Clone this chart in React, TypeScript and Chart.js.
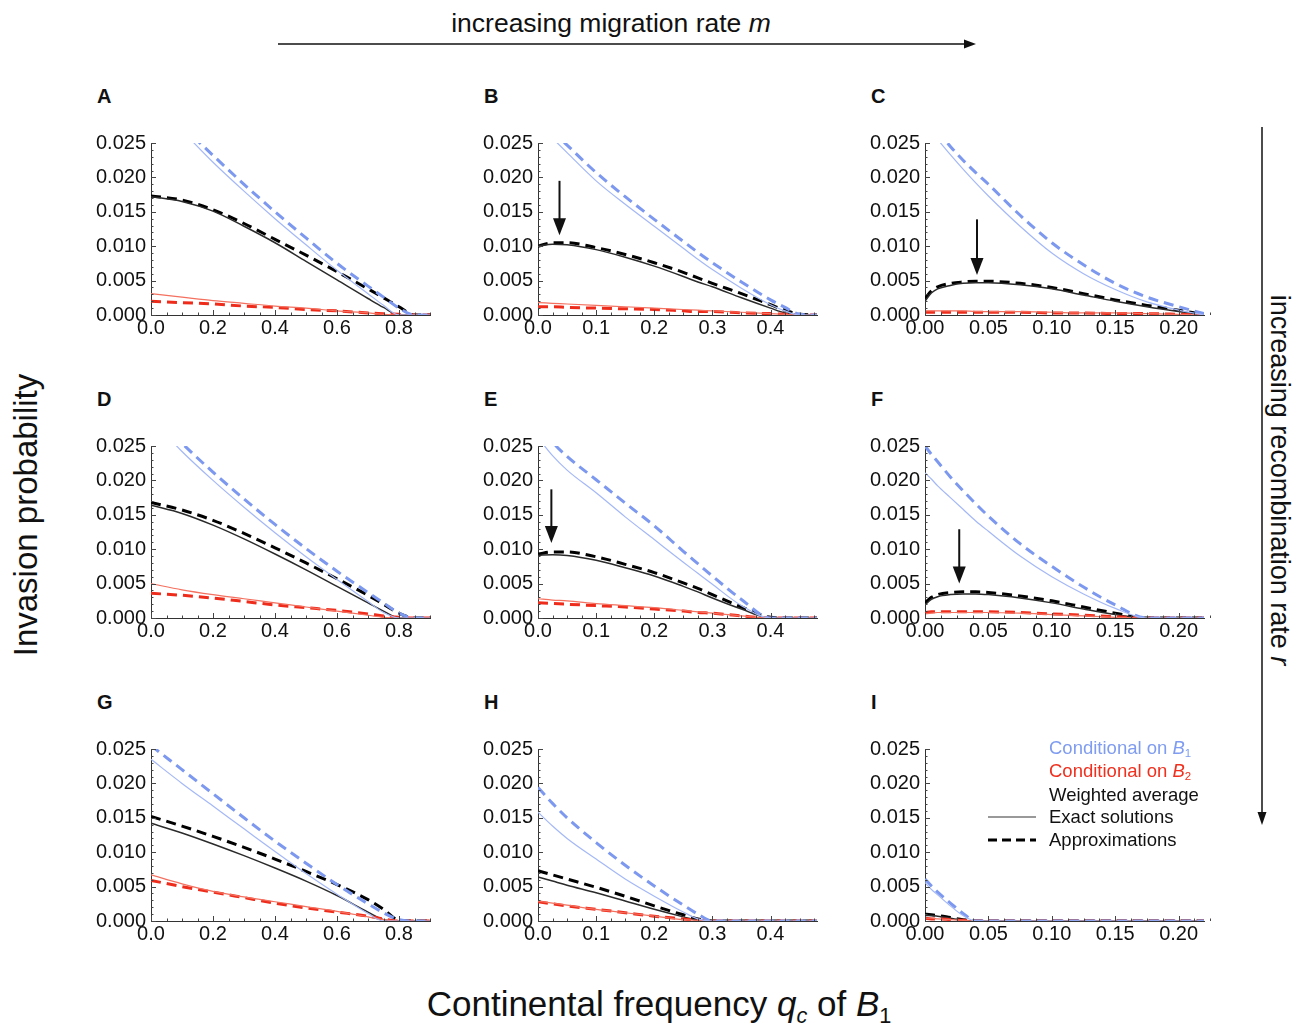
import React, { useEffect, useRef } from "react";
import { Chart, registerables } from "chart.js";

Chart.register(...registerables);

const FONT = '"Liberation Sans", Arial, Helvetica, sans-serif';

// ---------- tick labels ----------
const yTickValues = [0, 0.005, 0.01, 0.015, 0.02, 0.025];
const xTicksWide = [0, 0.2, 0.4, 0.6, 0.8];
const xTicksMid = [0, 0.1, 0.2, 0.3, 0.4];
const xTicksNarrow = [0, 0.05, 0.1, 0.15, 0.2];

// ---------- x grids (continental frequency q_c) ----------
const qWide = [0, 0.1, 0.2, 0.3, 0.4, 0.5, 0.6, 0.7, 0.75, 0.8, 0.85, 0.9];
const qMid = [0, 0.025, 0.05, 0.1, 0.15, 0.2, 0.25, 0.275, 0.3, 0.35, 0.4, 0.425, 0.45, 0.48];
const qNarrow = [0, 0.005, 0.01, 0.02, 0.03, 0.04, 0.05, 0.075, 0.1, 0.125, 0.15, 0.175, 0.2, 0.22];

// ---------- Panel A ----------
const aB1Exact = [null, 0.0268, 0.0222, 0.018, 0.014, 0.0102, 0.0065, 0.0031, 0.0014, 0, 0, 0];
const aB1Approx = [null, 0.0275, 0.0232, 0.019, 0.015, 0.0112, 0.0075, 0.0042, 0.0026, 0.001, 0, 0];
const aB2Exact = [0.0031, 0.0026, 0.0021, 0.0017, 0.0013, 0.001, 0.0006, 0.0003, 0.0001, 0, 0, 0];
const aB2Approx = [0.002, 0.0018, 0.0016, 0.0013, 0.0011, 0.0008, 0.0006, 0.0003, 0.0002, 0.0001, 0, 0];
const aAvgExact = [0.0172, 0.0165, 0.0151, 0.0129, 0.0105, 0.0078, 0.0051, 0.0024, 0.0011, 0, 0, 0];
const aAvgApprox = [0.0173, 0.0167, 0.0153, 0.0133, 0.011, 0.0087, 0.0063, 0.0038, 0.0025, 0.0012, 0, 0];

// ---------- Panel B ----------
const bB1Exact = [null, 0.0257, 0.0236, 0.0195, 0.0161, 0.0129, 0.0097, 0.0081, 0.0066, 0.0039, 0.0015, 0.0006, 0, 0];
const bB1Approx = [null, 0.0267, 0.0247, 0.0207, 0.0172, 0.0139, 0.0107, 0.0091, 0.0076, 0.0048, 0.0022, 0.0011, 0.0001, 0];
const bB2Exact = [0.0018, 0.0017, 0.0016, 0.0014, 0.0012, 0.001, 0.0008, 0.0007, 0.0006, 0.0004, 0.0002, 0.0001, 0, 0];
const bB2Approx = [0.0012, 0.0012, 0.0011, 0.001, 0.0009, 0.0008, 0.0006, 0.0005, 0.0005, 0.0003, 0.0002, 0.0001, 0, 0];
const bAvgExact = [0.01, 0.0103, 0.0102, 0.0095, 0.0084, 0.0071, 0.0056, 0.0048, 0.0041, 0.0025, 0.001, 0.0003, 0, 0];
const bAvgApprox = [0.01, 0.0105, 0.0105, 0.0098, 0.0088, 0.0076, 0.0062, 0.0054, 0.0046, 0.0031, 0.0015, 0.0007, 0.0001, 0];

// ---------- Panel C ----------
const cB1Exact = [null, null, 0.0255, 0.0233, 0.0212, 0.0192, 0.0173, 0.0129, 0.009, 0.006, 0.0037, 0.0019, 0.0007, 0];
const cB1Approx = [null, null, 0.0268, 0.0245, 0.0225, 0.0207, 0.019, 0.0145, 0.0105, 0.0073, 0.0046, 0.0026, 0.0012, 0.0002];
const cB2Exact = [0.0006, 0.0006, 0.0006, 0.0006, 0.0006, 0.0005, 0.0005, 0.0005, 0.0004, 0.0003, 0.0003, 0.0002, 0.0001, 0];
const cB2Approx = [0.0004, 0.0004, 0.0004, 0.0004, 0.0004, 0.0004, 0.0004, 0.0004, 0.0003, 0.0003, 0.0002, 0.0002, 0.0001, 0];
const cAvgExact = [0.002, 0.0032, 0.0038, 0.0043, 0.0046, 0.0047, 0.0047, 0.0044, 0.0038, 0.0029, 0.002, 0.0012, 0.0005, 0];
const cAvgApprox = [0.0024, 0.0035, 0.0041, 0.0046, 0.0048, 0.0049, 0.0049, 0.0046, 0.004, 0.0031, 0.0022, 0.0014, 0.0007, 0.0001];

// ---------- Panel D ----------
const dB1Exact = [0.029, 0.0242, 0.02, 0.0161, 0.0124, 0.0089, 0.0056, 0.0024, 0.0008, 0, 0, 0];
const dB1Approx = [0.03, 0.0254, 0.0212, 0.0173, 0.0136, 0.0101, 0.0068, 0.0037, 0.0022, 0.0007, 0, 0];
const dB2Exact = [0.005, 0.0041, 0.0034, 0.0028, 0.0022, 0.0016, 0.001, 0.0004, 0.0001, 0, 0, 0];
const dB2Approx = [0.0036, 0.0033, 0.0029, 0.0024, 0.0019, 0.0015, 0.0011, 0.0006, 0.0003, 0.0001, 0, 0];
const dAvgExact = [0.0164, 0.0152, 0.0135, 0.0115, 0.0093, 0.007, 0.0046, 0.0022, 0.001, 0, 0, 0];
const dAvgApprox = [0.0168, 0.0157, 0.0142, 0.0123, 0.0102, 0.008, 0.0057, 0.0033, 0.002, 0.0007, 0, 0];

// ---------- Panel E ----------
const eB1Exact = [0.0262, 0.0236, 0.0215, 0.0182, 0.0147, 0.0114, 0.0081, 0.0065, 0.0049, 0.0018, 0, 0, 0, 0];
const eB1Approx = [0.029, 0.0256, 0.0235, 0.0201, 0.0167, 0.0134, 0.0097, 0.0079, 0.0061, 0.0027, 0, 0, 0, 0];
const eB2Exact = [0.0028, 0.0026, 0.0025, 0.0021, 0.0018, 0.0015, 0.0011, 0.0009, 0.0007, 0.0003, 0, 0, 0, 0];
const eB2Approx = [0.0022, 0.0021, 0.002, 0.0018, 0.0016, 0.0013, 0.001, 0.0008, 0.0007, 0.0003, 0, 0, 0, 0];
const eAvgExact = [0.0091, 0.0092, 0.0091, 0.0084, 0.0073, 0.0061, 0.0046, 0.0038, 0.0029, 0.0013, 0, 0, 0, 0];
const eAvgApprox = [0.0093, 0.0096, 0.0096, 0.0089, 0.0078, 0.0066, 0.0051, 0.0043, 0.0034, 0.0016, 0.0001, 0, 0, 0];

// ---------- Panel F ----------
const fB1Exact = [0.0211, 0.0202, 0.0192, 0.0175, 0.0158, 0.0141, 0.0126, 0.009, 0.006, 0.0035, 0.0014, 0, 0, 0];
const fB1Approx = [0.025, 0.0238, 0.0227, 0.0205, 0.0185, 0.0166, 0.0148, 0.0108, 0.0075, 0.0045, 0.0019, 0, 0, 0];
const fB2Exact = [0.0006, 0.0007, 0.0008, 0.0008, 0.0008, 0.0008, 0.0008, 0.0007, 0.0005, 0.0003, 0.0001, 0, 0, 0];
const fB2Approx = [0.0008, 0.0009, 0.0009, 0.0009, 0.0009, 0.0009, 0.0009, 0.0008, 0.0006, 0.0004, 0.0002, 0, 0, 0];
const fAvgExact = [0.0019, 0.0027, 0.0031, 0.0034, 0.0035, 0.0035, 0.0034, 0.0029, 0.0022, 0.0013, 0.0005, 0, 0, 0];
const fAvgApprox = [0.0022, 0.003, 0.0034, 0.0037, 0.0038, 0.0038, 0.0037, 0.0032, 0.0025, 0.0016, 0.0007, 0, 0, 0];

// ---------- Panel G ----------
const gB1Exact = [0.0235, 0.02, 0.0167, 0.0134, 0.0101, 0.0069, 0.0039, 0.0011, 0, 0, 0, 0];
const gB1Approx = [0.0255, 0.022, 0.0185, 0.015, 0.0116, 0.0084, 0.0053, 0.0025, 0.0012, 0.0002, 0, 0];
const gB2Exact = [0.0067, 0.0054, 0.0043, 0.0035, 0.0028, 0.0021, 0.0014, 0.0006, 0.0002, 0, 0, 0];
const gB2Approx = [0.0059, 0.005, 0.0042, 0.0034, 0.0026, 0.0019, 0.0013, 0.0007, 0.0003, 0, 0, 0];
const gAvgExact = [0.0142, 0.0128, 0.0112, 0.0095, 0.0077, 0.0058, 0.0037, 0.0013, 0.0002, 0, 0, 0];
const gAvgApprox = [0.0152, 0.0138, 0.0123, 0.0107, 0.009, 0.0072, 0.0053, 0.0031, 0.0017, 0.0001, 0, 0];

// ---------- Panel H ----------
const hB1Exact = [0.0158, 0.0138, 0.012, 0.009, 0.0061, 0.0036, 0.0013, 0.0003, 0, 0, 0, 0, 0, 0];
const hB1Approx = [0.0194, 0.0171, 0.015, 0.0114, 0.0081, 0.0051, 0.0023, 0.001, 0, 0, 0, 0, 0, 0];
const hB2Exact = [0.0029, 0.0026, 0.0023, 0.0017, 0.0012, 0.0007, 0.0002, 0.0001, 0, 0, 0, 0, 0, 0];
const hB2Approx = [0.0028, 0.0025, 0.0022, 0.0017, 0.0012, 0.0007, 0.0003, 0.0001, 0, 0, 0, 0, 0, 0];
const hAvgExact = [0.0064, 0.0058, 0.0052, 0.0041, 0.0029, 0.0017, 0.0006, 0.0001, 0, 0, 0, 0, 0, 0];
const hAvgApprox = [0.0073, 0.0067, 0.0061, 0.0049, 0.0036, 0.0022, 0.0009, 0.0003, 0, 0, 0, 0, 0, 0];

// ---------- Panel I ----------
const iB1Exact = [0.0056, 0.0046, 0.0038, 0.0022, 0.0008, 0, 0, 0, 0, 0, 0, 0, 0, 0];
const iB1Approx = [0.0061, 0.0051, 0.0042, 0.0026, 0.0011, 0, 0, 0, 0, 0, 0, 0, 0, 0];
const iB2Exact = [0.0004, 0.0004, 0.0003, 0.0002, 0.0001, 0, 0, 0, 0, 0, 0, 0, 0, 0];
const iB2Approx = [0.0004, 0.0003, 0.0003, 0.0002, 0.0001, 0, 0, 0, 0, 0, 0, 0, 0, 0];
const iAvgExact = [0.0008, 0.0008, 0.0007, 0.0004, 0.0001, 0, 0, 0, 0, 0, 0, 0, 0, 0];
const iAvgApprox = [0.001, 0.0009, 0.0008, 0.0005, 0.0002, 0, 0, 0, 0, 0, 0, 0, 0, 0];

// arrows marking the maximum (x, from, to)
const arrowB = [0.037, 0.0195, 0.0116];
const arrowC = [0.041, 0.0139, 0.0058];
const arrowE = [0.023, 0.0187, 0.0109];
const arrowF = [0.027, 0.0129, 0.005];

const SERIES_STYLES = [
  { color: "#a4b8f7", width: 1.2, dash: [] as number[] },
  { color: "#7c98ef", width: 3, dash: [10, 6] },
  { color: "#f4705f", width: 1.2, dash: [] as number[] },
  { color: "#ee2c1c", width: 3, dash: [10, 6] },
  { color: "#2b2b2b", width: 1.5, dash: [] as number[] },
  { color: "#000000", width: 3, dash: [10, 6] },
];

type Panel = {
  letter: string;
  col: number;
  row: number;
  xs: number[];
  xMax: number;
  xTicks: number[];
  dec: number;
  minor: number;
  series: (number | null)[][];
  arrow: number[] | null;
};

const panels: Panel[] = [
  { letter: "A", col: 0, row: 0, xs: qWide, xMax: 0.9, xTicks: xTicksWide, dec: 1, minor: 0.05, series: [aB1Exact, aB1Approx, aB2Exact, aB2Approx, aAvgExact, aAvgApprox], arrow: null },
  { letter: "B", col: 1, row: 0, xs: qMid, xMax: 0.48, xTicks: xTicksMid, dec: 1, minor: 0.025, series: [bB1Exact, bB1Approx, bB2Exact, bB2Approx, bAvgExact, bAvgApprox], arrow: arrowB },
  { letter: "C", col: 2, row: 0, xs: qNarrow, xMax: 0.22, xTicks: xTicksNarrow, dec: 2, minor: 0.0125, series: [cB1Exact, cB1Approx, cB2Exact, cB2Approx, cAvgExact, cAvgApprox], arrow: arrowC },
  { letter: "D", col: 0, row: 1, xs: qWide, xMax: 0.9, xTicks: xTicksWide, dec: 1, minor: 0.05, series: [dB1Exact, dB1Approx, dB2Exact, dB2Approx, dAvgExact, dAvgApprox], arrow: null },
  { letter: "E", col: 1, row: 1, xs: qMid, xMax: 0.48, xTicks: xTicksMid, dec: 1, minor: 0.025, series: [eB1Exact, eB1Approx, eB2Exact, eB2Approx, eAvgExact, eAvgApprox], arrow: arrowE },
  { letter: "F", col: 2, row: 1, xs: qNarrow, xMax: 0.22, xTicks: xTicksNarrow, dec: 2, minor: 0.0125, series: [fB1Exact, fB1Approx, fB2Exact, fB2Approx, fAvgExact, fAvgApprox], arrow: arrowF },
  { letter: "G", col: 0, row: 2, xs: qWide, xMax: 0.9, xTicks: xTicksWide, dec: 1, minor: 0.05, series: [gB1Exact, gB1Approx, gB2Exact, gB2Approx, gAvgExact, gAvgApprox], arrow: null },
  { letter: "H", col: 1, row: 2, xs: qMid, xMax: 0.48, xTicks: xTicksMid, dec: 1, minor: 0.025, series: [hB1Exact, hB1Approx, hB2Exact, hB2Approx, hAvgExact, hAvgApprox], arrow: null },
  { letter: "I", col: 2, row: 2, xs: qNarrow, xMax: 0.22, xTicks: xTicksNarrow, dec: 2, minor: 0.0125, series: [iB1Exact, iB1Approx, iB2Exact, iB2Approx, iAvgExact, iAvgApprox], arrow: null },
];

// layout
const AXIS_X = [151, 538, 925];
const ROW_TOP = [143, 446, 749];
const PLOT_W = 279;
const PLOT_H = 172;
const Y_AXIS_W = 60;
const X_AXIS_H = 30;
const PAD_TOP = 20;
const PAD_RIGHT = 14;
const CANVAS_W = Y_AXIS_W + PLOT_W + PAD_RIGHT;
const CANVAS_H = PAD_TOP + PLOT_H + X_AXIS_H;

function PanelChart({ p }: { p: Panel }) {
  const ref = useRef<HTMLCanvasElement | null>(null);
  useEffect(() => {
    if (!ref.current) return;
    const decoPlugin = {
      id: "deco" + p.letter,
      afterDatasetsDraw(chart: any) {
        const { ctx } = chart;
        const xs = chart.scales.x;
        const ys = chart.scales.y;
        const y0 = ys.getPixelForValue(0);
        const x0 = xs.getPixelForValue(0);
        ctx.save();
        // inward ticks
        ctx.strokeStyle = "#444";
        ctx.lineWidth = 1;
        const nX = Math.round(p.xMax / p.minor);
        for (let i = 0; i <= nX; i++) {
          const v = i * p.minor;
          const isMajor = p.xTicks.some((t) => Math.abs(t - v) < 1e-9);
          const px = Math.round(xs.getPixelForValue(v)) + 0.5;
          ctx.beginPath();
          ctx.moveTo(px, y0);
          ctx.lineTo(px, y0 - (isMajor ? 5 : 2.5));
          ctx.stroke();
        }
        for (let i = 0; i <= 25; i++) {
          const v = i * 0.001;
          const isMajor = i % 5 === 0;
          const py = Math.round(ys.getPixelForValue(v)) + 0.5;
          ctx.beginPath();
          ctx.moveTo(x0, py);
          ctx.lineTo(x0 + (isMajor ? 5 : 2.5), py);
          ctx.stroke();
        }
        // arrow
        if (p.arrow) {
          const ax = xs.getPixelForValue(p.arrow[0]);
          const ay1 = ys.getPixelForValue(p.arrow[1]);
          const ay2 = ys.getPixelForValue(p.arrow[2]);
          ctx.strokeStyle = "#111";
          ctx.fillStyle = "#111";
          ctx.lineWidth = 2;
          ctx.beginPath();
          ctx.moveTo(ax, ay1);
          ctx.lineTo(ax, ay2 - 14);
          ctx.stroke();
          ctx.beginPath();
          ctx.moveTo(ax - 6.5, ay2 - 17);
          ctx.lineTo(ax + 6.5, ay2 - 17);
          ctx.lineTo(ax, ay2);
          ctx.closePath();
          ctx.fill();
        }
        ctx.restore();
      },
    };
    const tickFont = { family: FONT, size: 20 };
    const chart = new Chart(ref.current, {
      type: "line",
      data: {
        datasets: p.series.map((vals, k) => ({
          data: p.xs.map((x, i) => ({ x, y: vals[i] })),
          borderColor: SERIES_STYLES[k].color,
          borderWidth: SERIES_STYLES[k].width,
          borderDash: SERIES_STYLES[k].dash,
          pointRadius: 0,
          fill: false,
          cubicInterpolationMode: "monotone",
          spanGaps: false,
        })),
      },
      options: {
        animation: false,
        responsive: false,
        maintainAspectRatio: false,
        layout: { padding: { top: PAD_TOP, right: PAD_RIGHT, left: 0, bottom: 0 } },
        plugins: { legend: { display: false }, tooltip: { enabled: false } },
        scales: {
          x: {
            type: "linear",
            min: 0,
            max: p.xMax,
            grid: { display: false, drawTicks: false },
            border: { display: true, color: "#333", width: 1 },
            afterBuildTicks: (s: any) => {
              s.ticks = p.xTicks.map((v) => ({ value: v }));
            },
            afterFit: (s: any) => {
              s.height = X_AXIS_H;
            },
            ticks: {
              autoSkip: false,
              maxRotation: 0,
              minRotation: 0,
              padding: 1,
              color: "#111",
              font: tickFont,
              callback: (v: any) => Number(v).toFixed(p.dec),
            },
          },
          y: {
            type: "linear",
            min: 0,
            max: 0.025,
            grid: { display: false, drawTicks: false },
            border: { display: true, color: "#333", width: 1 },
            afterBuildTicks: (s: any) => {
              s.ticks = yTickValues.map((v) => ({ value: v }));
            },
            afterFit: (s: any) => {
              s.width = Y_AXIS_W;
            },
            ticks: {
              autoSkip: false,
              padding: 5,
              color: "#111",
              font: tickFont,
              callback: (v: any) => Number(v).toFixed(3),
            },
          },
        },
      },
      plugins: [decoPlugin],
    } as any);
    return () => chart.destroy();
  }, [p]);
  return (
    <canvas
      ref={ref}
      width={CANVAS_W}
      height={CANVAS_H}
      style={{
        position: "absolute",
        left: AXIS_X[p.col] - Y_AXIS_W,
        top: ROW_TOP[p.row] - PAD_TOP,
        width: CANVAS_W,
        height: CANVAS_H,
      }}
    />
  );
}

const subStyle: React.CSSProperties = { fontSize: "0.62em", position: "relative", top: "0.3em" };

export default function App() {
  const letterLeft = [97, 484, 871];
  const letterTop = [96, 399, 702];
  const legendFont = 18.5;
  return (
    <div
      style={{
        position: "absolute",
        left: 0,
        top: 0,
        width: 1304,
        height: 1027,
        background: "#fff",
        fontFamily: FONT,
        color: "#111",
        overflow: "hidden",
      }}
    >
      <svg width={1304} height={1027} style={{ position: "absolute", left: 0, top: 0 }}>
        <line x1={278} y1={44} x2={966} y2={44} stroke="#111" strokeWidth={1.5} />
        <polygon points="976,44 964,39.5 964,48.5" fill="#111" />
        <line x1={1262} y1={127} x2={1262} y2={814} stroke="#111" strokeWidth={1.5} />
        <polygon points="1262,825 1257.5,812 1266.5,812" fill="#111" />
        {/* legend keys */}
        <line x1={988} y1={817} x2={1036} y2={817} stroke="#777" strokeWidth={1.3} />
        <line x1={988} y1={840} x2={1036} y2={840} stroke="#000" strokeWidth={3} strokeDasharray="9 5" />
      </svg>

      <div style={{ position: "absolute", left: 611, top: 23, transform: "translate(-50%,-50%)", fontSize: 26.5, whiteSpace: "nowrap" }}>
        increasing migration rate <i>m</i>
      </div>
      <div
        style={{
          position: "absolute",
          left: 1279,
          top: 480,
          transform: "translate(-50%,-50%) rotate(90deg)",
          fontSize: 27,
          whiteSpace: "nowrap",
        }}
      >
        increasing recombination rate <i>r</i>
      </div>
      <div
        style={{
          position: "absolute",
          left: 26,
          top: 515,
          transform: "translate(-50%,-50%) rotate(-90deg)",
          fontSize: 33,
          whiteSpace: "nowrap",
        }}
      >
        Invasion probability
      </div>
      <div style={{ position: "absolute", left: 659, top: 1004, transform: "translate(-50%,-50%)", fontSize: 35, whiteSpace: "nowrap" }}>
        Continental frequency <i>q</i>
        <i style={subStyle}>c</i> of <i>B</i>
        <span style={subStyle}>1</span>
      </div>

      {panels.map((p) => (
        <div
          key={"L" + p.letter}
          style={{
            position: "absolute",
            left: letterLeft[p.col],
            top: letterTop[p.row],
            transform: "translateY(-50%)",
            fontSize: 20,
            fontWeight: "bold",
          }}
        >
          {p.letter}
        </div>
      ))}

      {panels.map((p) => (
        <PanelChart key={p.letter} p={p} />
      ))}

      <div style={{ position: "absolute", left: 1049, top: 748, transform: "translateY(-50%)", fontSize: legendFont, color: "#7f9cf0", whiteSpace: "nowrap" }}>
        Conditional on <i>B</i>
        <span style={subStyle}>1</span>
      </div>
      <div style={{ position: "absolute", left: 1049, top: 771, transform: "translateY(-50%)", fontSize: legendFont, color: "#f0301e", whiteSpace: "nowrap" }}>
        Conditional on <i>B</i>
        <span style={subStyle}>2</span>
      </div>
      <div style={{ position: "absolute", left: 1049, top: 795, transform: "translateY(-50%)", fontSize: legendFont, whiteSpace: "nowrap" }}>
        Weighted average
      </div>
      <div style={{ position: "absolute", left: 1049, top: 817, transform: "translateY(-50%)", fontSize: legendFont, whiteSpace: "nowrap" }}>
        Exact solutions
      </div>
      <div style={{ position: "absolute", left: 1049, top: 840, transform: "translateY(-50%)", fontSize: legendFont, whiteSpace: "nowrap" }}>
        Approximations
      </div>
    </div>
  );
}
